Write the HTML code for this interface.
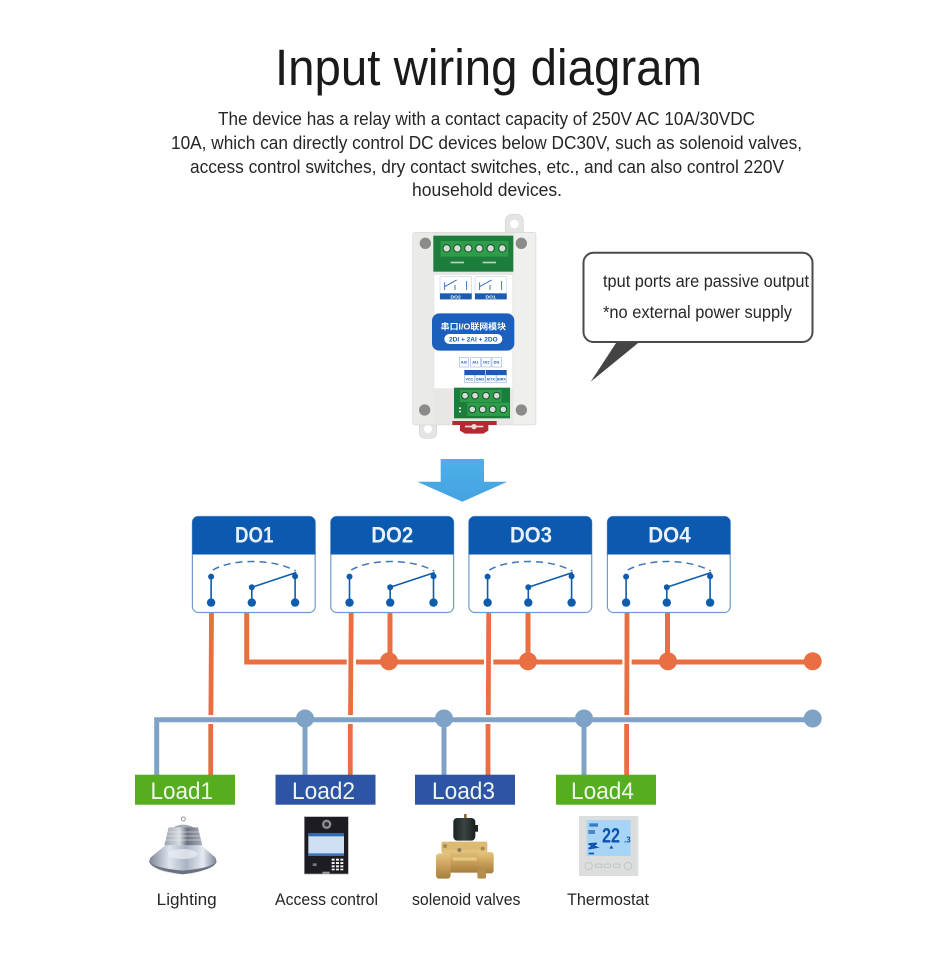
<!DOCTYPE html>
<html lang="en">
<head>
<meta charset="utf-8">
<title>Input wiring diagram</title>
<style>
html,body{margin:0;padding:0;background:#fff;}
body{width:950px;height:970px;overflow:hidden;}
svg{display:block;}
text{font-family:"Liberation Sans","Noto Sans CJK SC",sans-serif;}
</style>
</head>
<body>
<svg width="950" height="970" viewBox="0 0 950 970" xmlns="http://www.w3.org/2000/svg">
<defs>
<linearGradient id="arrowG" x1="0" y1="0" x2="0" y2="1"><stop offset="0" stop-color="#4eb0ea"/><stop offset="1" stop-color="#44a2e0"/></linearGradient>
<linearGradient id="coneG" x1="0" y1="0" x2="1" y2="0"><stop offset="0" stop-color="#7f8899"/><stop offset=".3" stop-color="#dfe5ee"/><stop offset=".55" stop-color="#aab3c4"/><stop offset=".8" stop-color="#e6eaf1"/><stop offset="1" stop-color="#7b8495"/></linearGradient>
<linearGradient id="finG" x1="0" y1="0" x2="1" y2="0"><stop offset="0" stop-color="#9aa1ac"/><stop offset=".4" stop-color="#d9dde3"/><stop offset=".6" stop-color="#6b7280"/><stop offset="1" stop-color="#a8aeb8"/></linearGradient>
<linearGradient id="brassG" x1="0" y1="0" x2="0" y2="1"><stop offset="0" stop-color="#e6c67e"/><stop offset=".5" stop-color="#c9a05a"/><stop offset="1" stop-color="#a67f3c"/></linearGradient>
<linearGradient id="coilG" x1="0" y1="0" x2="1" y2="0"><stop offset="0" stop-color="#1b2222"/><stop offset=".5" stop-color="#3a4444"/><stop offset="1" stop-color="#1b2020"/></linearGradient>
<filter id="soft" x="-5%" y="-5%" width="110%" height="110%"><feGaussianBlur stdDeviation="1"/></filter>
<g id="sw">
  <rect x="0.6" y="11.5" width="122.8" height="96" rx="6" fill="#fff" stroke="#6f9ccc" stroke-width="1.2"/>
  <path d="M6 11.5H118a5.500 5.500 0 0 1 5.500 5.500V49.500H0.500V17a5.500 5.500 0 0 1 5.500-5.500z" fill="#0b5ab0"/>
  <path d="M21 65C40 54 80 53 104 66" fill="none" stroke="#3f78b8" stroke-width="1.5" stroke-dasharray="7 5"/>
  <g stroke="#0f5cab" stroke-width="1.600" fill="none">
    <path d="M19.300 71.500V97.500M60 82V97.500M103.300 71.500V97.500M60 82.300L104.500 67.500"/>
  </g>
  <g fill="#0f5cab">
    <circle cx="19.300" cy="71.600" r="3"/><circle cx="60" cy="82.300" r="3"/><circle cx="103.300" cy="71.300" r="3"/>
    <circle cx="19.300" cy="97.600" r="4.200"/><circle cx="60" cy="97.600" r="4.200"/><circle cx="103.300" cy="97.600" r="4.200"/>
  </g>
</g>
</defs>

<rect width="950" height="970" fill="#fff"/>

<text x="275" y="85" font-size="51" fill="#1a1a1a" textLength="427" lengthAdjust="spacingAndGlyphs">Input wiring diagram</text>
<g font-size="18" fill="#262626">
<text x="218" y="125" textLength="537" lengthAdjust="spacingAndGlyphs">The device has a relay with a contact capacity of 250V AC 10A/30VDC</text>
<text x="171" y="149" textLength="631" lengthAdjust="spacingAndGlyphs">10A, which can directly control DC devices below DC30V, such as solenoid valves,</text>
<text x="190" y="173" textLength="594" lengthAdjust="spacingAndGlyphs">access control switches, dry contact switches, etc., and can also control 220V</text>
<text x="412" y="196" textLength="150" lengthAdjust="spacingAndGlyphs">household devices.</text>
</g>

<!-- device -->
<g transform="translate(400 205) scale(.33333)">
<g filter="url(#soft)">
  <path d="M316 90V45a18 18 0 0 1 18-17h18a18 18 0 0 1 18 17V90z" fill="#e4e4e2" stroke="#c9c9c7" stroke-width="1.500"/>
  <circle cx="343" cy="57" r="13" fill="#fff"/>
  <path d="M58 650V685a15 15 0 0 0 15 15h22a15 15 0 0 0 15-15V650z" fill="#e4e4e2" stroke="#c9c9c7" stroke-width="1.500"/>
  <circle cx="84" cy="672" r="12" fill="#fff"/>
  <rect x="38" y="82" width="370" height="578" rx="6" fill="#e7e7e5" stroke="#d2d2d0" stroke-width="1.500"/>
  <rect x="340" y="84" width="66" height="574" fill="#efefed"/>
  <rect x="40" y="84" width="60" height="574" fill="#eaeae8"/>
  <circle cx="76" cy="115" r="17" fill="#8b8b88"/><circle cx="364" cy="115" r="17" fill="#8b8b88"/>
  <circle cx="74" cy="615" r="17" fill="#8b8b88"/><circle cx="364" cy="615" r="17" fill="#8b8b88"/>

  <rect x="100" y="92" width="240" height="108" fill="#1f7d3c"/>
  <rect x="122" y="108" width="203" height="47" fill="#2f9c48"/>
  <g fill="#d6dcd6" stroke="#15532a" stroke-width="3">
    <circle cx="140" cy="130" r="11"/><circle cx="172" cy="130" r="11"/><circle cx="205" cy="130" r="11"/>
    <circle cx="238" cy="130" r="11"/><circle cx="272" cy="130" r="11"/><circle cx="307" cy="130" r="11"/>
  </g>
  <g fill="#b9d4bf"><rect x="152" y="170" width="40" height="5"/><rect x="248" y="170" width="40" height="5"/></g>

  <rect x="103" y="210" width="234" height="340" fill="#fff"/>
  <g fill="none" stroke="#a9c4e4" stroke-width="1.500"><rect x="120" y="215" width="95" height="68" rx="3"/><rect x="225" y="215" width="95" height="68" rx="3"/></g>
  <rect x="120" y="265" width="95" height="18" fill="#1a5cb0"/><rect x="225" y="265" width="95" height="18" fill="#1a5cb0"/>
  <text x="167" y="280" font-size="15" font-weight="700" fill="#fff" text-anchor="middle">DO2</text>
  <text x="272" y="280" font-size="15" font-weight="700" fill="#fff" text-anchor="middle">DO1</text>
  <g stroke="#1a5cb0" stroke-width="2.500" fill="#1a5cb0">
    <path d="M134 232V255M165 240V255M200 228V255M134 245L170 225" fill="none"/>
    <path d="M239 232V255M270 240V255M305 228V255M239 245L275 225" fill="none"/>
  </g>

  <rect x="96" y="325" width="247" height="112" rx="22" fill="#1b5ebd"/>
  <text x="220" y="374" font-size="25" font-weight="700" fill="#fff" text-anchor="middle" textLength="196" lengthAdjust="spacingAndGlyphs">串口I/O联网模块</text>
  <rect x="133" y="387" width="174" height="30" rx="15" fill="#fff"/>
  <text x="220" y="410" font-size="20" font-weight="700" fill="#1b5ebd" text-anchor="middle" textLength="146" lengthAdjust="spacingAndGlyphs">2DI + 2AI + 2DO</text>

  <g fill="#fff" stroke="#7fa6d6" stroke-width="1.500">
    <rect x="178" y="458" width="28" height="28"/><rect x="212" y="458" width="29" height="28"/><rect x="245" y="458" width="28" height="28"/><rect x="276" y="458" width="29" height="28"/>
    <rect x="193" y="510" width="31" height="22"/><rect x="225" y="510" width="30" height="22"/><rect x="257" y="510" width="31" height="22"/><rect x="289" y="510" width="31" height="22"/>
  </g>
  <rect x="193" y="495" width="62" height="15" fill="#1a5cb0"/><rect x="257" y="495" width="63" height="15" fill="#1a5cb0"/>
  <g font-size="12" fill="#1a5cb0" text-anchor="middle" font-weight="700">
    <text x="192" y="476">AI2</text><text x="226" y="476">AI1</text><text x="259" y="476">DI2</text><text x="290" y="476">DI1</text>
    <text x="208" y="526" font-size="11">VCC</text><text x="240" y="526" font-size="11">GND</text><text x="272" y="526" font-size="11">A/TX</text><text x="304" y="526" font-size="11">B/RX</text>
  </g>

  <rect x="162" y="548" width="168" height="92" fill="#1f7d3c"/>
  <rect x="180" y="555" width="125" height="36" fill="#2f9c48"/>
  <rect x="202" y="593" width="126" height="40" fill="#2f9c48"/>
  <g fill="#d6dcd6" stroke="#15532a" stroke-width="3">
    <circle cx="195" cy="572" r="10"/><circle cx="225" cy="572" r="10"/><circle cx="258" cy="572" r="10"/><circle cx="290" cy="572" r="10"/>
    <circle cx="217" cy="613" r="10"/><circle cx="248" cy="613" r="10"/><circle cx="278" cy="613" r="10"/><circle cx="310" cy="613" r="10"/>
  </g>
  <rect x="177" y="607" width="6" height="5" fill="#d5e3d8"/><rect x="177" y="617" width="6" height="5" fill="#d5e3d8"/>

  <path d="M157 648H290V660H265V677L250 686H195L180 677V660H157z" fill="#b22b33"/>
  <circle cx="222" cy="665" r="8" fill="#f1d6d6"/>
  <rect x="195" y="662" width="55" height="5" fill="#f1d6d6"/>
</g>
</g>

<!-- speech bubble -->
<path d="M616.700 342 L590.700 381.700 L639.300 342z" fill="#444"/>
<rect x="583.500" y="252.800" width="229" height="89.200" rx="10" fill="#fff" stroke="#4a4a4a" stroke-width="2"/>
<g font-size="17.500" fill="#262626">
<text x="603" y="287" textLength="206" lengthAdjust="spacingAndGlyphs">tput ports are passive output</text>
<text x="603" y="318" textLength="189" lengthAdjust="spacingAndGlyphs">*no external power supply</text>
</g>

<!-- arrow -->
<polygon points="440.700,459 484,459 484,481.700 507.300,481.700 462.300,501.700 417.300,481.700 440.700,481.700" fill="url(#arrowG)"/>

<!-- wiring: blue -->
<g fill="none" stroke="#7fa3c7" stroke-width="5">
  <path d="M156.700 775V719.700H813"/>
  <path d="M305 719V775M444 719V775M584 719V775"/>
</g>
<g fill="#7fa3c7">
  <circle cx="305" cy="718.500" r="9"/><circle cx="444" cy="718.500" r="9"/><circle cx="584" cy="718.500" r="9"/><circle cx="812.700" cy="718.500" r="9"/>
</g>

<!-- wiring: orange horizontal -->
<g fill="none" stroke="#e96f42" stroke-width="5">
  <path d="M246.700 613V662H813"/>
  <path d="M390 613V662M528 613V662M667.500 613V662"/>
</g>
<g fill="#e96f42">
  <circle cx="389" cy="661.300" r="9"/><circle cx="528" cy="661.300" r="9"/><circle cx="668" cy="661.300" r="9"/><circle cx="812.700" cy="661.300" r="9"/>
</g>

<!-- gaps -->
<g fill="#fff">
  <rect x="346.700" y="658" width="9.300" height="8"/><rect x="484" y="658" width="9.300" height="8"/><rect x="622.300" y="658" width="9.300" height="8"/>
</g>

<!-- orange verticals with gaps at blue bus -->
<g fill="none" stroke="#e96f42" stroke-width="4.800">
  <path d="M211.500 613L210.900 715M210.700 724V775"/>
  <path d="M351.200 613L350.500 715M350.300 724V775"/>
  <path d="M488.700 613L488.300 715M488 724V775"/>
  <path d="M627 613L626.800 715M626.600 724V775"/>
</g>

<!-- relay boxes -->
<use href="#sw" transform="translate(191.800 505)"/>
<use href="#sw" transform="translate(330.200 505)"/>
<use href="#sw" transform="translate(468.300 505)"/>
<use href="#sw" transform="translate(606.800 505)"/>
<g font-size="22" font-weight="700" fill="#e8f1fb">
<text x="235" y="542.500" textLength="38.500" lengthAdjust="spacingAndGlyphs">DO1</text>
<text x="371.300" y="542.500" textLength="42" lengthAdjust="spacingAndGlyphs">DO2</text>
<text x="510" y="542.500" textLength="42" lengthAdjust="spacingAndGlyphs">DO3</text>
<text x="648.300" y="542.500" textLength="42.400" lengthAdjust="spacingAndGlyphs">DO4</text>
</g>

<!-- load boxes -->
<rect x="135" y="774.700" width="100" height="30" fill="#56ae1f"/>
<rect x="275.500" y="774.700" width="100" height="30" fill="#2e55a5"/>
<rect x="415" y="774.700" width="100" height="30" fill="#2e55a5"/>
<rect x="556" y="774.700" width="100" height="30" fill="#56ae1f"/>
<g font-size="24" fill="#eef6ea">
<text x="150.500" y="799" textLength="62.500" lengthAdjust="spacingAndGlyphs">Load1</text>
<text x="292" y="799" textLength="63" lengthAdjust="spacingAndGlyphs">Load2</text>
<text x="432" y="799" textLength="63" lengthAdjust="spacingAndGlyphs">Load3</text>
<text x="571" y="799" textLength="63" lengthAdjust="spacingAndGlyphs">Load4</text>
</g>

<!-- lamp & panel -->
<g transform="translate(120 770) scale(.33333)">
<g filter="url(#soft)">
  <circle cx="190" cy="147" r="6" fill="none" stroke="#9a9a9a" stroke-width="3"/>
  <path d="M150 178Q190 150 230 178z" fill="#a6acb6"/>
  <path d="M146 172H234L247 226H133z" fill="url(#finG)"/>
  <g stroke="#eef0f4" stroke-width="2" opacity=".7"><path d="M142 186H238M139 198H241M137 210H243"/></g>
  <path d="M136 226H244L286 262Q294 276 280 288Q240 312 188 312Q130 312 98 288Q82 276 92 262z" fill="url(#coneG)"/>
  <path d="M86 272Q92 300 188 313Q286 300 291 272Q282 294 188 302Q96 294 86 272z" fill="#68717f"/>
  <ellipse cx="188" cy="252" rx="44" ry="15" fill="#e8ecf2" opacity=".75"/>
</g>
<g filter="url(#soft)">
  <rect x="553" y="140" width="132" height="172" fill="#1b1b20" stroke="#a5a5a5" stroke-width="2"/>
  <circle cx="620" cy="163" r="14" fill="#8c8f94"/><circle cx="620" cy="163" r="7" fill="#2b2d30"/>
  <rect x="565" y="190" width="107" height="68" fill="#cfe0f5"/>
  <rect x="565" y="190" width="107" height="9" fill="#2f6db5"/>
  <rect x="565" y="250" width="107" height="8" fill="#3a76bb"/>
  <g fill="#f1f1f1">
    <rect x="635" y="266" width="9" height="6"/><rect x="648" y="266" width="9" height="6"/><rect x="661" y="266" width="9" height="6"/>
    <rect x="635" y="276" width="9" height="6"/><rect x="648" y="276" width="9" height="6"/><rect x="661" y="276" width="9" height="6"/>
    <rect x="635" y="286" width="9" height="6"/><rect x="648" y="286" width="9" height="6"/><rect x="661" y="286" width="9" height="6"/>
    <rect x="635" y="296" width="9" height="5"/><rect x="648" y="296" width="9" height="5"/><rect x="661" y="296" width="9" height="5"/>
  </g>
  <rect x="578" y="280" width="12" height="8" fill="#777"/>
  <rect x="607" y="305" width="22" height="7" fill="#999"/>
</g>
</g>

<!-- valve & thermostat -->
<g transform="translate(400 770) scale(.33333)">
<g filter="url(#soft)">
  <rect x="192" y="132" width="8" height="14" fill="#8b6c38"/>
  <rect x="160" y="144" width="66" height="68" rx="12" fill="url(#coilG)"/>
  <rect x="224" y="165" width="10" height="20" fill="#222"/>
  <rect x="124" y="215" width="138" height="34" rx="6" fill="#dcba72"/>
  <rect x="128" y="240" width="132" height="68" fill="url(#brassG)"/>
  <rect x="108" y="250" width="44" height="76" rx="10" fill="url(#brassG)"/>
  <rect x="236" y="246" width="45" height="64" rx="8" fill="url(#brassG)"/>
  <rect x="232" y="296" width="26" height="30" rx="5" fill="#b48f4e"/>
  <circle cx="135" cy="228" r="6" fill="#a58a5a"/><circle cx="178" cy="240" r="6" fill="#8e7a55"/><circle cx="248" cy="236" r="6" fill="#a58a5a"/>
  <rect x="158" y="262" width="72" height="10" fill="#f0d690" opacity=".7"/>
</g>
<g>
  <rect x="537" y="138" width="178" height="180" fill="#dcdddd"/>
  <rect x="560" y="150" width="132" height="108" fill="#a8d5f5"/>
  <text x="606" y="218" font-size="64" fill="#0d52b0" font-weight="700" textLength="54" lengthAdjust="spacingAndGlyphs">22</text>
  <text x="672" y="218" font-size="24" fill="#0d52b0" font-weight="700">.3</text>
  <rect x="568" y="160" width="26" height="10" fill="#3a7cc4"/>
  <rect x="565" y="180" width="20" height="12" fill="#4b86c6"/>
  <path d="M566 222L590 232L566 236L590 220z" fill="none" stroke="#0d52b0" stroke-width="5"/>
  <path d="M628 236L640 236L634 226z" fill="#0d52b0"/>
  <rect x="566" y="248" width="16" height="5" fill="#0d52b0"/>
  <g fill="none" stroke="#bcbcbc" stroke-width="2">
    <circle cx="566" cy="288" r="11"/><circle cx="684" cy="288" r="11"/>
    <rect x="586" y="282" width="20" height="11" rx="5"/><rect x="612" y="282" width="20" height="11" rx="5"/><rect x="640" y="282" width="20" height="11" rx="5"/>
  </g>
</g>
</g>

<!-- captions -->
<g font-size="17" fill="#262626">
<text x="156.700" y="905" textLength="60" lengthAdjust="spacingAndGlyphs">Lighting</text>
<text x="275" y="905" textLength="103" lengthAdjust="spacingAndGlyphs">Access control</text>
<text x="412" y="905" textLength="108.500" lengthAdjust="spacingAndGlyphs">solenoid valves</text>
<text x="567" y="905" textLength="82" lengthAdjust="spacingAndGlyphs">Thermostat</text>
</g>
</svg>
</body>
</html>
